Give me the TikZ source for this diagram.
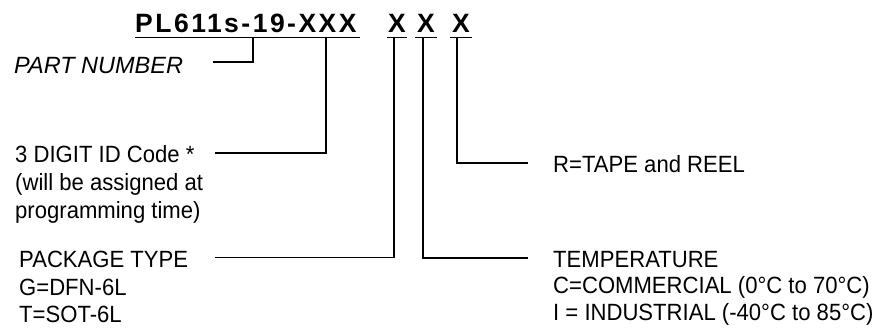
\documentclass[tikz,border=0pt]{standalone}
\usepackage{fontspec}
\setmainfont{Liberation Sans}[FakeStretch=0.94]
\newfontfamily\plainfont{Liberation Sans}
\newfontfamily\titlefont[LetterSpace=9.4]{Liberation Sans Bold}
\begin{document}
\begin{tikzpicture}[x=1pt,y=-1pt,
  lbl/.style={anchor=base west, inner sep=0pt, font=\fontsize{23.5}{28}\selectfont},
  ttl/.style={anchor=base west, inner sep=0pt, font=\titlefont\fontsize{26.5}{30}\selectfont},
  conn/.style={line width=1.4pt}]
\useasboundingbox (0,0) rectangle (876,333);
% title
\node[ttl] (pn) at (135,32) {PL611s-19-XXX};
\node[ttl] (xa) at (388,32) {X};
\node[ttl] (xb) at (417,32) {X};
\node[ttl] (xc) at (452,32) {X};
% underlines
\coordinate (u0s) at (135,37.5); \coordinate (u0e) at (360,37.5);
\coordinate (uas) at (387,37.5); \coordinate (uae) at (407,37.5);
\coordinate (ubs) at (415,37.5); \coordinate (ube) at (437,37.5);
\coordinate (ucs) at (450,37.5); \coordinate (uce) at (472,37.5);
\draw[conn] (u0s) -- (u0e);
\draw[conn] (uas) -- (uae);
\draw[conn] (ubs) -- (ube);
\draw[conn] (ucs) -- (uce);
% labels left
\node[lbl, font=\plainfont\itshape\fontsize{23.5}{28}\selectfont] (partnum) at (14,73) {PART NUMBER};
\node[lbl] (idcode) at (15,162) {3 DIGIT ID Code *};
\node[lbl] (id2) at (15,190) {(will be assigned at};
\node[lbl] (id3) at (15,218) {programming time)};
\node[lbl] (pkg) at (19,267) {PACKAGE TYPE};
\node[lbl] (pkg2) at (19,295) {G=DFN-6L};
\node[lbl] (pkg3) at (19,322) {T=SOT-6L};
% labels right
\node[lbl] (reel) at (553,172) {R=TAPE and REEL};
\node[lbl] (temp) at (553,267) {TEMPERATURE};
\node[lbl] (temp2) at (553,293) {C=COMMERCIAL (0°C to 70°C)};
\node[lbl] (temp3) at (553,320) {I = INDUSTRIAL (-40°C to 85°C)};
% connector points
\coordinate (pnTap) at (253,37.5);   \coordinate (pnEnd) at (213,62);
\coordinate (idTap) at (326,37.5);   \coordinate (idEnd) at (215,153);
\coordinate (pkTap) at (394,37.5);   \coordinate (pkEnd) at (215,257.5);
\coordinate (tmTap) at (423,37.5);   \coordinate (tmEnd) at (528,258);
\coordinate (rlTap) at (457,37.5);   \coordinate (rlEnd) at (528,163);
\draw[conn] (pnTap) |- (pnEnd);
\draw[conn] (idTap) |- (idEnd);
\draw[conn] (pkTap) |- (pkEnd);
\draw[conn] (tmTap) |- (tmEnd);
\draw[conn] (rlTap) |- (rlEnd);
\end{tikzpicture}
\end{document}
